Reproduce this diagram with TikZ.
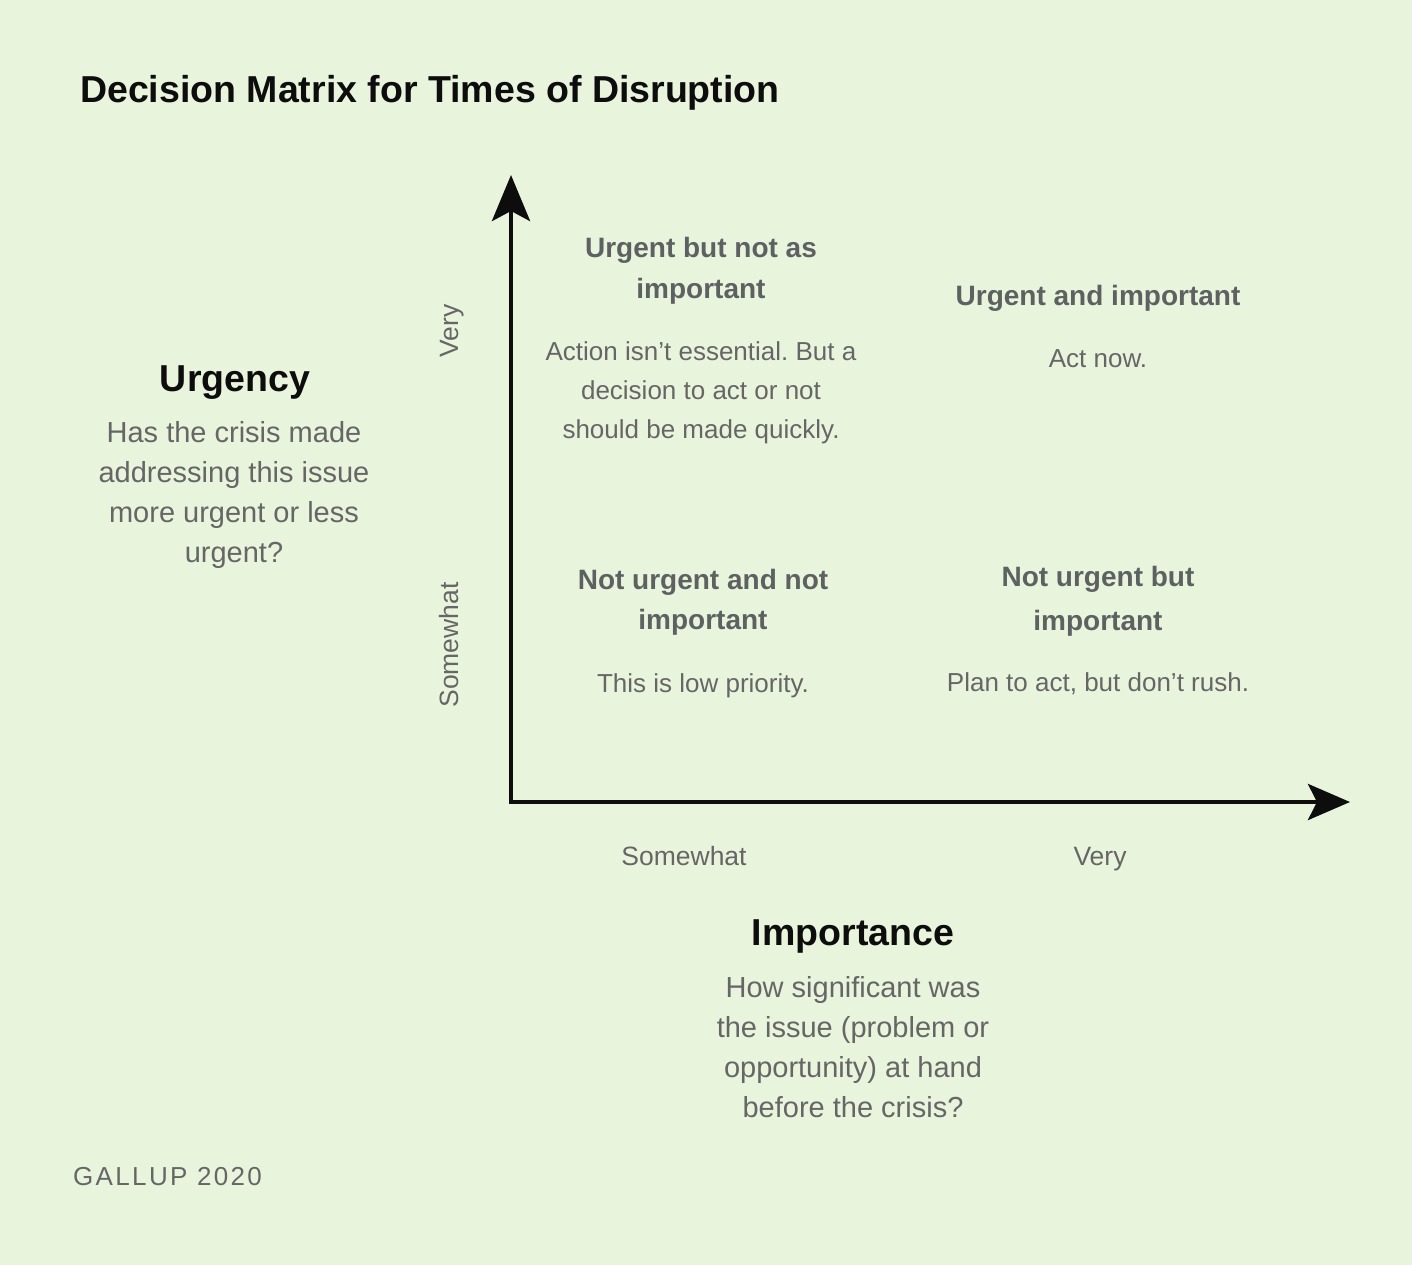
\documentclass[tikz,border=0pt]{standalone}
\usepackage{fontspec}
\setmainfont{Liberation Sans}
\usetikzlibrary{arrows.meta}
\definecolor{bg}{HTML}{E9F4DD}
\definecolor{ink}{HTML}{0D0D0D}
\definecolor{headgray}{HTML}{5E6161}
\definecolor{bodygray}{HTML}{666666}
\newcommand{\fsz}[2]{\fontsize{#1}{#2}\selectfont}
\frenchspacing

\begin{document}
\begin{tikzpicture}[x=1pt,y=-1pt,
  % multi-line nodes sit on the baseline of their last line
  txt/.style={inner sep=0pt, align=center, anchor=base},
  charttitle/.style={txt, text=ink, font=\bfseries\fsz{37.5}{45}},
  axisname/.style={txt, text=ink, font=\bfseries\fsz{37.5}{45}},
  axisnote/.style={txt, text=bodygray, font=\fsz{29}{40}},
  quadhead/.style={txt, text=headgray, font=\bfseries\fsz{28}{40}},
  quadbody/.style={txt, text=bodygray, font=\fsz{26}{39}},
  ticklabel/.style={txt, text=bodygray, font=\fsz{26.5}{32}},
  axisline/.style={line width=4.5pt, draw=ink, line join=miter}]

% canvas
\fill[bg] (0,0) rectangle (1412,1265);
\useasboundingbox (0,0) rectangle (1412,1265);

% title
\node[charttitle, anchor=base west] (title) at (80,103) {Decision Matrix for Times of Disruption};

% axis names and their questions
\node[axisname] (urg) at (235,391) {Urgency};
\node[axisnote] (urgq) at (234,562) {Has the crisis made\\addressing this issue\\more urgent or less\\urgent?};
\node[axisname] (imp) at (853,945) {Importance};
\node[axisnote] (impq) at (853,1117) {How significant was\\the issue (problem or\\opportunity) at hand\\before the crisis?};

% axes
\coordinate (o) at (511,802);
\coordinate (ytip) at (511,175);
\coordinate (xtip) at (1350,802);
\draw[axisline, {Stealth[length=46pt,width=38pt,inset=10pt]}-{Stealth[length=42pt,width=36pt,inset=9pt]}]
  (ytip) -- (o) -- (xtip);

% tick labels
\node[ticklabel] (xs) at (684,865) {Somewhat};
\node[ticklabel] (xv) at (1100,865) {Very};
\node[ticklabel, rotate=90] (ys) at (458,645) {Somewhat};
\node[ticklabel, rotate=90] (yv) at (458,331) {Very};

% quadrants
\node[quadhead] (h11) at (701,298) {Urgent but not as\\important};
\node[quadbody] (b11) at (701,438) {Action isn’t essential. But a\\decision to act or not\\should be made quickly.};
\node[quadhead] (h12) at (1098,305) {Urgent and important};
\node[quadbody] (b12) at (1098,367) {Act now.};
\node[quadhead] (h21) at (703,629) {Not urgent and not\\important};
\node[quadbody] (b21) at (703,692) {This is low priority.};
\node[quadhead, font=\bfseries\fsz{28}{44}] (h22) at (1098,630) {Not urgent but\\important};
\node[quadbody] (b22) at (1098,691) {Plan to act, but don’t rush.};

% source
\node[txt, anchor=base west, text=bodygray, font=\fsz{26}{30}\addfontfeature{LetterSpace=9}] (src) at (73,1185) {GALLUP 2020};
\end{tikzpicture}
\end{document}
